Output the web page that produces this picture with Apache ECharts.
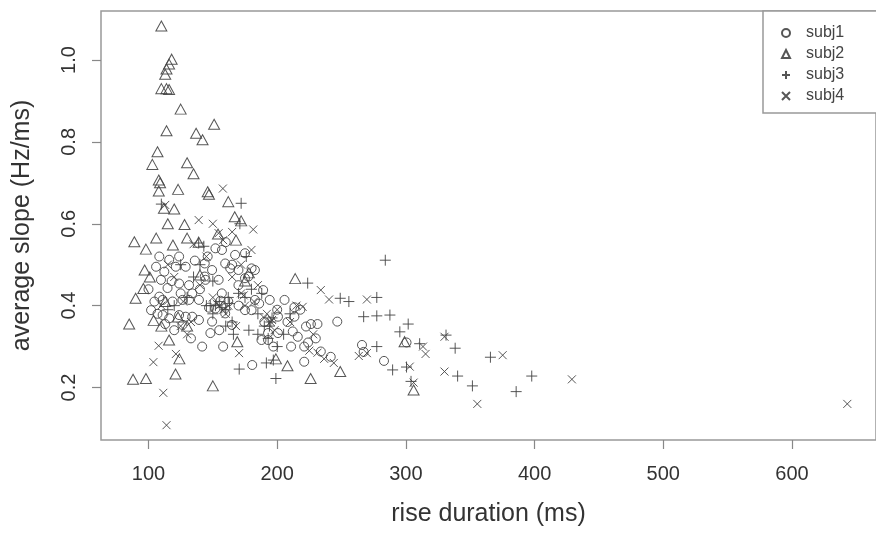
<!DOCTYPE html>
<html><head><meta charset="utf-8">
<script src="https://cdn.jsdelivr.net/npm/echarts@6/dist/echarts.min.js"></script>
<style>html,body{margin:0;padding:0;background:#fff}#c{width:876px;height:534px}</style>
</head><body><div id="c"></div>
<script>
// ---- data (rise duration ms, average slope Hz/ms) ----
const subj1 = [[105.9,0.495],[112.3,0.483],[116.1,0.512],[123.8,0.52],[128.9,0.495],[109.7,0.463],[114.8,0.443],[108.4,0.422],[123.8,0.454],[131.5,0.45],[126.4,0.414],[118.7,0.41],[131.5,0.414],[139.2,0.414],[149.4,0.487],[154.5,0.463],[144.3,0.463],[157.1,0.536],[159.6,0.503],[167.3,0.524],[175,0.528],[180.1,0.491],[182.7,0.487],[175,0.467],[169.9,0.45],[163.5,0.491],[111,0.377],[116.1,0.369],[123.8,0.377],[128.9,0.373],[126.4,0.353],[139.2,0.365],[149.4,0.361],[148.1,0.333],[164.8,0.353],[152,0.393],[159.6,0.381],[182.7,0.414],[194.2,0.414],[189.1,0.438],[180.1,0.389],[175,0.389],[111,0.414],[102,0.389],[104.6,0.41],[143.7,0.503],[143.7,0.471],[121.2,0.495],[108.4,0.52],[169.9,0.487],[177.6,0.471],[186,0.405],[205.7,0.414],[213.4,0.396],[200.6,0.373],[134,0.373],[141.7,0.3],[192.9,0.333],[192.9,0.316],[213.4,0.373],[212.1,0.337],[222.4,0.349],[226.2,0.355],[231.3,0.355],[216,0.324],[221,0.3],[210.8,0.3],[221,0.263],[233.9,0.288],[241.6,0.275],[246.7,0.361],[180.6,0.255],[265.9,0.304],[267.2,0.287],[283,0.265],[300.5,0.31],[200.6,0.333],[187.8,0.316],[134,0.43],[140,0.44],[157,0.43],[162,0.41],[170,0.4],[146,0.52],[152,0.54],[160,0.555],[165,0.5],[136,0.51],[118,0.46],[125,0.43],[100,0.44],[107,0.38],[113,0.355],[120,0.34],[133,0.32],[155,0.34],[158,0.3],[200,0.39],[208,0.36],[218,0.39],[224,0.31],[230,0.32],[197,0.3],[147,0.395],[156,0.412],[190,0.36]];
const subj2 = [[110,1.083],[118,1.002],[116,0.99],[114,0.978],[113,0.965],[110,0.93],[114,0.93],[116,0.928],[125,0.88],[114,0.827],[151,0.843],[137,0.821],[142,0.805],[107,0.776],[103,0.745],[130,0.749],[135,0.722],[108,0.707],[109,0.7],[108,0.68],[123,0.684],[146,0.678],[147,0.672],[162,0.654],[112,0.638],[120,0.636],[115,0.6],[128,0.598],[167,0.617],[172,0.607],[89,0.556],[98,0.538],[106,0.565],[119,0.548],[130,0.565],[139,0.555],[168,0.56],[154,0.575],[97,0.487],[96,0.442],[90,0.418],[85,0.355],[104,0.364],[110,0.35],[123,0.372],[130,0.35],[88,0.22],[98,0.222],[121,0.233],[150,0.204],[116,0.316],[124,0.27],[169,0.312],[178,0.48],[214,0.466],[299,0.312],[306,0.194],[208,0.253],[226,0.222],[249,0.239],[199,0.27],[101,0.47],[113,0.41],[140,0.475],[175,0.46]];
const subj3 = [[110,0.648],[172,0.65],[139,0.553],[170.5,0.245],[191.6,0.26],[197,0.267],[199,0.222],[223.7,0.455],[249,0.418],[255.7,0.41],[277.4,0.42],[267.2,0.373],[277.4,0.375],[287.6,0.377],[284,0.511],[301.8,0.355],[295.3,0.336],[310.7,0.307],[277.4,0.3],[289.7,0.243],[300.5,0.25],[304,0.215],[331.2,0.328],[338.3,0.296],[340.2,0.228],[351.7,0.204],[365.7,0.274],[385.7,0.19],[397.8,0.228],[140,0.5],[150,0.46],[145,0.4],[155,0.41],[160,0.39],[165,0.36],[170,0.43],[175,0.42],[180,0.44],[185,0.38],[190,0.35],[195,0.36],[193,0.32],[188,0.43],[130,0.42],[120,0.4],[115,0.39],[160,0.35],[150,0.38],[125,0.5],[176,0.52],[205,0.33],[210,0.38],[200,0.3],[185,0.33],[178,0.34],[166,0.33],[143,0.545],[135,0.47],[171,0.6],[162,0.42],[148,0.4],[152,0.4],[157,0.395],[163,0.405],[196,0.37],[194,0.35]];
const subj4 = [[114,0.108],[111.5,0.187],[103.8,0.262],[107.9,0.302],[121.3,0.282],[170.4,0.284],[157.8,0.686],[113,0.646],[139,0.609],[181.4,0.586],[154.5,0.577],[180,0.536],[233.9,0.438],[240.3,0.415],[269.7,0.415],[219.8,0.397],[231.3,0.285],[236.5,0.27],[244,0.26],[263.4,0.277],[269.7,0.284],[303,0.251],[306,0.212],[313.3,0.3],[315.3,0.282],[330,0.324],[330,0.239],[355.5,0.16],[375.2,0.279],[429,0.22],[643,0.16],[135,0.55],[145,0.52],[150,0.42],[155,0.4],[160,0.38],[168,0.35],[175,0.4],[182,0.41],[190,0.37],[195,0.36],[198,0.34],[140,0.45],[120,0.47],[115,0.5],[125,0.35],[130,0.33],[165,0.47],[172,0.5],[200,0.39],[210,0.36],[215,0.4],[225,0.29],[228,0.33],[185,0.45],[158,0.56],[150,0.6],[165,0.58],[110,0.4],[127,0.41],[133,0.36],[153,0.405],[158,0.39],[162,0.4],[196,0.365],[192,0.38],[172,0.43],[174,0.425]];
const seriesNames = ['subj1','subj2','subj3','subj4'];
const xTicks = [100,200,300,400,500,600];
const yTicks = [0.2,0.4,0.6,0.8,1.0];

const FONT = '"Liberation Sans", Arial, Helvetica, sans-serif';
const INK = '#444';
const symbols = ['circle','triangle','path://M5,0V10M0,5H10','path://M0,0L10,10M10,0L0,10'];
const sizes = [9,[11,10],11,8];
const datasets = [subj1,subj2,subj3,subj4];

const chart = echarts.init(document.getElementById('c'), null, {renderer:'canvas'});
chart.setOption({
  animation:false,
  backgroundColor:'#fff',
  grid:{left:101, top:11, width:784, height:429, show:true, borderColor:'#999', borderWidth:1.5, backgroundColor:'transparent'},
  xAxis:{type:'value', min:63.1, max:665.3, splitLine:{show:false},
    axisLine:{show:false},
    axisTick:{show:true, customValues:xTicks, length:9, lineStyle:{color:'#888', width:1.2}},
    axisLabel:{customValues:xTicks, margin:24, fontSize:20, color:'#333', fontFamily:FONT},
    name:'rise duration (ms)', nameLocation:'middle', nameGap:62,
    nameTextStyle:{fontSize:25, color:'#333', fontFamily:FONT}},
  yAxis:{type:'value', min:0.0718, max:1.1197, splitLine:{show:false},
    axisLine:{show:false},
    axisTick:{show:true, customValues:yTicks, length:9, lineStyle:{color:'#888', width:1.2}},
    axisLabel:{customValues:yTicks, rotate:90, margin:22, fontSize:20, color:'#333', fontFamily:FONT,
      formatter:v=>v.toFixed(1)},
    name:'average slope (Hz/ms)', nameLocation:'middle', nameGap:66, nameRotate:90,
    nameTextStyle:{fontSize:25, color:'#333', fontFamily:FONT}},
  legend:{orient:'vertical', left:763, top:11, backgroundColor:'#fff', borderColor:'#999', borderWidth:1.5,
    padding:[13,80,8,18], itemWidth:8, itemHeight:8, itemGap:3,
    data:seriesNames,
    textStyle:{fontSize:16, lineHeight:18, color:'#444', fontFamily:FONT, padding:[0,0,0,11]}},
  series: seriesNames.map((n,i)=>({
    name:n, type:'scatter', data:datasets[i], symbol:symbols[i], symbolSize:sizes[i],
    itemStyle:{color:'transparent', borderColor:INK, borderWidth:1, opacity:0.9},
    emphasis:{disabled:true}, z:2
  }))
});
</script></body></html>
